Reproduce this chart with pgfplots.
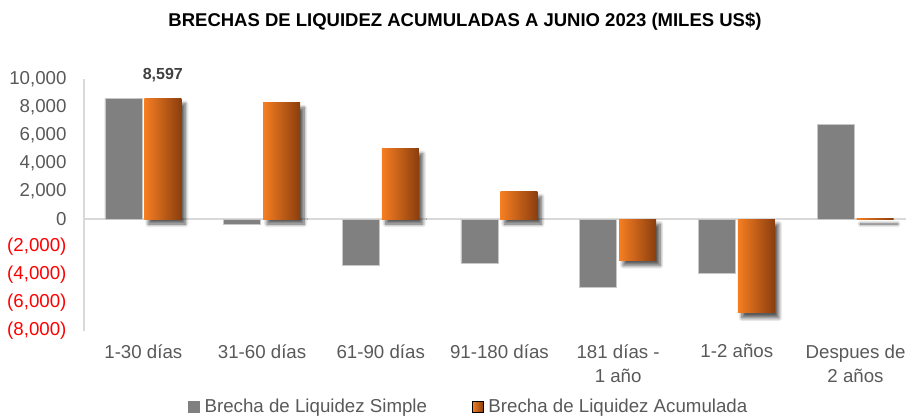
\documentclass[border=0pt]{standalone}
\usepackage{pgfplots}
\pgfplotsset{compat=1.18}
\usepackage{fontspec}
\setmainfont{Liberation Sans}
\usetikzlibrary{shadows.blur}
\definecolor{barGray}{RGB}{128,128,128}
\definecolor{orL}{RGB}{246,126,34}
\definecolor{orR}{RGB}{138,62,14}
\definecolor{txt}{RGB}{89,89,89}
\definecolor{axln}{RGB}{217,217,217}
\definecolor{lbl}{RGB}{64,64,64}
\pgfplotsset{
  orbar/.style={draw=none, left color=orL, right color=orR, bar shift=19.5pt, forget plot,
    blur shadow={shadow xshift=4pt, shadow yshift=-5pt, shadow blur steps=8, shadow blur radius=3.5pt, shadow opacity=65}},
}
\begin{document}
\begin{tikzpicture}[x=1pt,y=1pt]
\path[use as bounding box] (0,0) rectangle (906,416);
\node[font=\fontsize{18.5}{22}\selectfont\bfseries, text=black] at (465,394.5) {BRECHAS DE LIQUIDEZ ACUMULADAS A JUNIO 2023 (MILES US\$)};
\begin{axis}[
  at={(84pt,85pt)}, anchor=south west,
  scale only axis, width=822pt, height=252pt,
  xmin=-0.5, xmax=6.425, ymin=-8000, ymax=10000,
  ybar, bar width=37pt,
  axis y line*=left, axis x line*=bottom,
  x axis line style={draw=none},
  y axis line style={axln, line width=1.3pt, -},
  major tick length=0pt,
  scaled y ticks=false,
  ytick={-8000,-6000,-4000,-2000,0,2000,4000,6000,8000,10000},
  yticklabels={\textcolor{red}{(8,000)},\textcolor{red}{(6,000)},\textcolor{red}{(4,000)},\textcolor{red}{(2,000)},0,{2,000},{4,000},{6,000},{8,000},{10,000}},
  xtick={0,1,2,3,4,5,6},
  xticklabels={1-30 días,31-60 días,61-90 días,91-180 días,181 días -\\1 año,1-2 años,Despues de\\2 años},
  xticklabel style={align=center, font=\fontsize{18.7}{24}\selectfont, text=txt, yshift=-10pt},
  yticklabel style={font=\fontsize{18.7}{20}\selectfont, text=txt, xshift=-14pt},
  extra y ticks={0}, extra y tick labels={},
  extra y tick style={grid=major, major grid style={axln, line width=1.6pt}},
  legend style={at={(0.468,-0.30)}, anchor=center, draw=none, fill=none,
    legend columns=2, font=\fontsize{18.7}{20}\selectfont, text=txt,
    /tikz/every even column/.append style={column sep=43pt}},
  legend cell align=left,
]
\addplot[fill=barGray, draw=black!22, line width=0.6pt, bar shift=-20pt,
  legend image code/.code={\fill[barGray] (0pt,-6pt) rectangle (11pt,5pt); \path (14pt,0pt);}]
  coordinates {(0,8597) (1,-350) (2,-3340) (3,-3145) (4,-4880) (5,-3860) (6,6780)};
\addlegendentry{Brecha de Liquidez Simple}
\addlegendimage{legend image code/.code={\fill[left color=orL, right color=orR] (0pt,-6pt) rectangle (11pt,5pt); \path (14pt,0pt);}}
\addlegendentry{Brecha de Liquidez Acumulada}
\addplot[orbar] coordinates {(0,8597)};
\addplot[orbar] coordinates {(1,8300)};
\addplot[orbar] coordinates {(2,5020)};
\addplot[orbar] coordinates {(3,1950)};
\addplot[orbar] coordinates {(4,-2960)};
\addplot[orbar] coordinates {(5,-6710)};
\addplot[orbar] coordinates {(6,5)};
\addplot[draw=none, fill=none, bar shift=19.5pt, forget plot,
  nodes near coords, point meta=explicit symbolic,
  every node near coord/.append style={font=\fontsize{16}{18}\selectfont\bfseries, text=lbl, yshift=13pt}]
  coordinates {(0,8597) [8,597]};
\end{axis}
\end{tikzpicture}
\end{document}
